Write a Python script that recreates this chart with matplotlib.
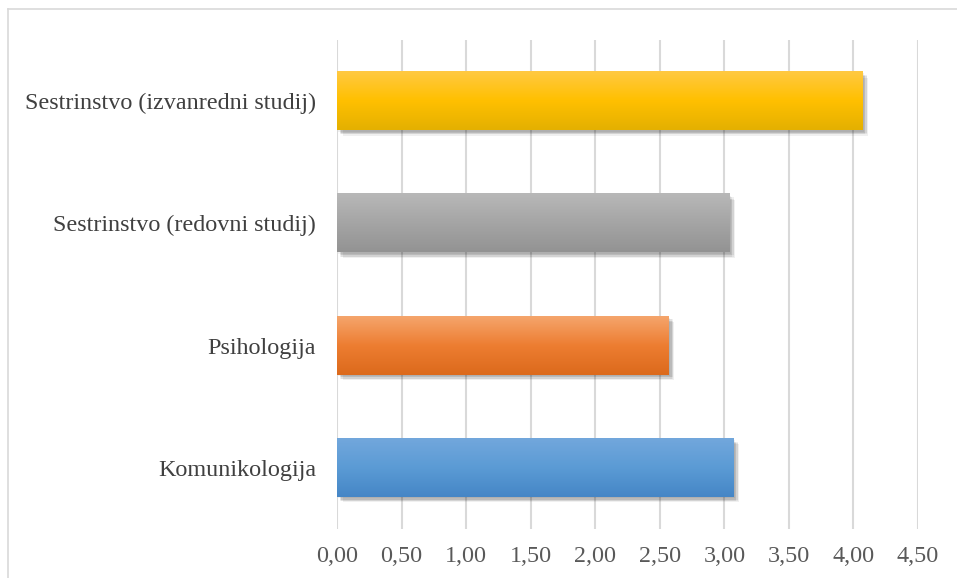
import matplotlib.pyplot as plt
import matplotlib.patheffects as pe
from matplotlib.colors import LinearSegmentedColormap
from matplotlib.lines import Line2D
import numpy as np

categories = ["Komunikologija", "Psihologija",
              "Sestrinstvo (redovni studij)", "Sestrinstvo (izvanredni studij)"]
values = [3.07, 2.57, 3.04, 4.07]
ticks = [0.0, 0.5, 1.0, 1.5, 2.0, 2.5, 3.0, 3.5, 4.0, 4.5]
tick_labels = ["0,00", "0,50", "1,00", "1,50", "2,00", "2,50", "3,00", "3,50", "4,00", "4,50"]

# top, middle, bottom colour of each bar gradient
grads = [("#72a7dc", "#5b9bd5", "#4586c6"),
         ("#f5a56c", "#ed7d31", "#dc6a1c"),
         ("#b8b8b8", "#a5a5a5", "#939393"),
         ("#ffc942", "#ffc000", "#e4b000")]

plt.rcParams["font.family"] = ["Liberation Serif", "DejaVu Serif"]

fig = plt.figure(figsize=(9.57, 5.78), dpi=100)
ax = fig.add_axes([337 / 957, 1 - 529 / 578, 581 / 957, 489 / 578])

h = 0.475
y = np.arange(len(categories))
bars = ax.barh(y, values, height=h, color=[g[1] for g in grads], zorder=2)
# soft drop shadow: a few faint offset copies
shadow = [pe.SimplePatchShadow(offset=(dx, -dy), shadow_rgbFace="black", alpha=0.06)
          for dx, dy in [(1, 1), (2, 2), (3, 3), (4, 4), (2, 3), (3, 2)]]
for b in bars:
    b.set_path_effects(shadow + [pe.Normal()])

grad = np.linspace(0, 1, 100).reshape(-1, 1)
for i, (v, g) in enumerate(zip(values, grads)):
    cmap = LinearSegmentedColormap.from_list("g%d" % i, list(g))
    ax.imshow(grad, cmap=cmap, aspect="auto", origin="lower",
              extent=(0, v, i + h / 2, i - h / 2), zorder=3)

ax.set_xlim(0, 4.5)
ax.set_ylim(-0.5, 3.5)
ax.set_xticks(ticks)
ax.set_xticklabels(tick_labels)
ax.set_yticks(y)
ax.set_yticklabels(categories)
ax.grid(axis="x", color="#d9d9d9", linewidth=1.5, zorder=0)
ax.set_axisbelow(True)
for s in ax.spines.values():
    s.set_visible(False)
ax.tick_params(axis="x", length=0, labelsize=17.4, labelcolor="#595959", pad=12)
ax.tick_params(axis="y", length=0, labelsize=17.4, labelcolor="#404040", pad=15)

# outer chart border
fig.add_artist(Line2D([8 / 957, 1], [1 - 9 / 578, 1 - 9 / 578], color="#d9d9d9", lw=1.2))
fig.add_artist(Line2D([8 / 957, 8 / 957], [0, 1 - 9 / 578], color="#d9d9d9", lw=1.2))

fig.savefig("out.png", dpi=100)
